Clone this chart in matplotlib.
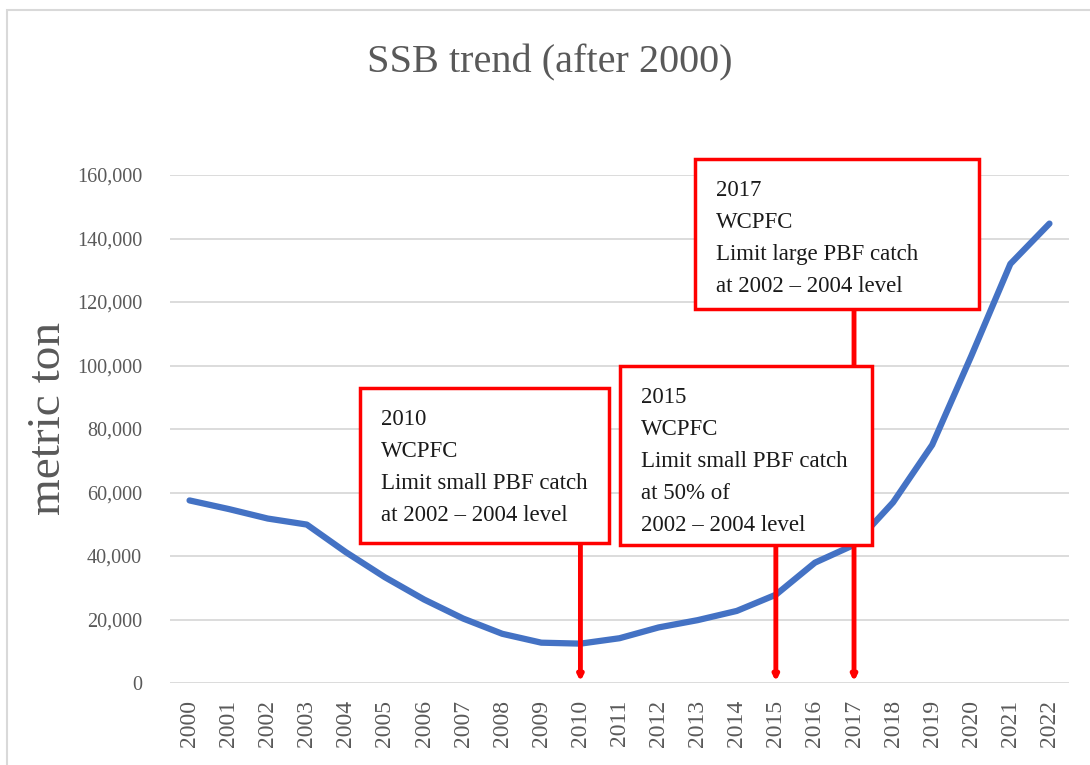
import matplotlib.pyplot as plt
from matplotlib.patches import Rectangle
from matplotlib.ticker import FuncFormatter

# Dati SSB (metric ton) dal 2000 al 2022
years = [str(y) for y in range(2000, 2023)]
ssb = [57500, 54800, 51800, 49900, 41200, 33300, 26300, 20300, 15500, 12700,
       12400, 14100, 17500, 19800, 22700, 27800, 37900, 43500, 56900, 75000,
       103000, 132000, 144700]

# Annotazioni: anno e testo
notes_years = ['2010', '2015', '2017']
notes_text = [
    '2010\nWCPFC\nLimit small PBF catch\nat 2002 \u2013 2004 level',
    '2015\nWCPFC\nLimit small PBF catch\nat 50% of\n2002 \u2013 2004 level',
    '2017\nWCPFC\nLimit large PBF catch\nat 2002 \u2013 2004 level',
]

plt.rcParams['font.family'] = ['Liberation Serif', 'DejaVu Serif']
grey = '#595959'

fig = plt.figure(figsize=(10.9, 7.65), dpi=100)
ax = fig.add_axes([170 / 1090, 82 / 765, 899 / 1090, 508 / 765])

x = list(range(len(years)))
ax.plot(x, ssb, color='#4472C4', lw=4.5, solid_capstyle='round', zorder=3)

ax.set_xlim(-0.5, len(years) - 0.5)
ax.set_ylim(0, 160000)
ax.set_yticks(range(0, 160001, 20000))
ax.yaxis.set_major_formatter(FuncFormatter(lambda v, p: f'{int(v):,}'))
ax.set_xticks(x)
ax.set_xticklabels(years, rotation=90)
ax.tick_params(length=0, colors=grey)
ax.tick_params(axis='x', labelsize=17, pad=12)
ax.tick_params(axis='y', labelsize=14.5, pad=20)
ax.grid(axis='y', color='#d9d9d9', lw=1.3)
ax.set_axisbelow(True)
for s in ax.spines.values():
    s.set_visible(False)

ax.set_ylabel('metric ton', fontsize=34, color=grey)
ax.yaxis.set_label_coords(-100 / 899, 0.52)
fig.text(550 / 1090, 1 - 63 / 765, 'SSB trend (after 2000)', fontsize=29,
         color=grey, ha='center', va='center')

# bordo esterno del grafico
fig.patches.append(Rectangle((7 / 1090, -0.05), 1.2, 1 - 10 / 765 + 0.05,
                             transform=fig.transFigure, fill=False,
                             ec='#d9d9d9', lw=1.5))

# posizioni dei box in pixel della figura (x0, y_top, x1, y_bottom)
boxes_px = [(360, 388, 609, 543), (620, 366, 872, 545), (695, 159, 979, 309)]


def px_to_data(px, py):
    return ax.transData.inverted().transform((px, 765 - py))


red = '#FF0000'
z_order = [5, 8, 4]
for i, (yr, txt, (x0, y0, x1, y1)) in enumerate(zip(notes_years, notes_text, boxes_px)):
    xi = years.index(yr)
    _, yb = px_to_data(0, y1)
    # freccia dal bordo inferiore del box fino all'asse
    ax.annotate('', xy=(xi, 500), xytext=(xi, yb),
                arrowprops=dict(arrowstyle='-|>', color=red, lw=3.5,
                                mutation_scale=7, shrinkA=0, shrinkB=0),
                zorder=3.5)
    (dx0, dy0) = px_to_data(x0, y1)
    (dx1, dy1) = px_to_data(x1, y0)
    rect = Rectangle((dx0, dy0), dx1 - dx0, dy1 - dy0, fc='white', ec=red,
                     lw=2.5, zorder=z_order[i], clip_on=False)
    ax.add_patch(rect)
    tx, ty = px_to_data(x0 + 21, y0 + 21)
    ax.text(tx, ty, txt, fontsize=16.5, color='#1a1a1a', ha='left', va='top',
            linespacing=1.68, zorder=z_order[i] + 0.5, clip_on=False)

fig.savefig('out.png', dpi=100)
